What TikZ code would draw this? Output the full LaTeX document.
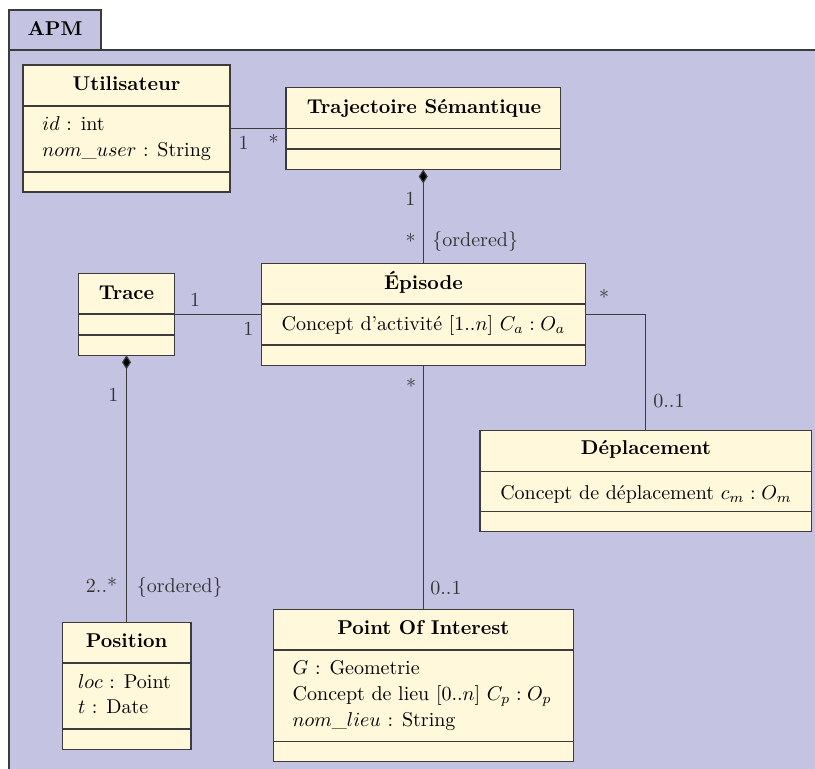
\documentclass[tikz,border=0pt]{standalone}
\usepackage{fontspec}
\usetikzlibrary{arrows.meta,fit}
\definecolor{pkgfill}{RGB}{197,195,226}
\definecolor{clsfill}{RGB}{255,248,218}
\definecolor{edge}{RGB}{60,60,60}
\begin{document}
\begin{tikzpicture}[x=0.5pt,y=-0.5pt,
  cls/.style={draw=edge, fill=clsfill, line width=0.6pt, inner sep=0pt, outer sep=0pt},
  sepline/.style={draw=edge, line width=0.6pt},
  ttl/.style={font=\bfseries, anchor=base, inner sep=0pt},
  attr/.style={anchor=base west, inner sep=0pt},
  attrc/.style={anchor=base, inner sep=0pt},
  lbl/.style={inner sep=0pt, text=black!80},
  assoc/.style={draw=edge, line width=0.6pt},
  comp/.style={assoc, {Diamond[length=7pt,width=4.5pt,fill=black]}-}
]
\useasboundingbox (0,0) rectangle (815,769);
\fill[white] (0,0) rectangle (815,769);
% package frame
\node[fill=pkgfill, inner sep=0pt, outer sep=0pt, fit={(9,50) (815,769)}] (pkg) {};
\draw[edge, line width=0.6pt] (815,50) -- (9,50) -- (9,769);
\node[draw=edge, fill=pkgfill, line width=0.6pt, inner sep=0pt, fit={(9,10) (101,50)}] (tab) {};
\node[ttl] (apm) at (55,36) {APM};

% Utilisateur
\node[cls, fit={(23,65) (230,192)}] (utl) {};
\draw[sepline] (23,106) -- (230,106);
\draw[sepline] (23,172) -- (230,172);
\node[ttl] (utlT) at (126.5,90.7) {Utilisateur};
\node[attr] (utlA1) at (42,131) {$id$ : int};
\node[attr] (utlA2) at (42,157) {$nom\_user$ : String};

% Trajectoire Semantique
\node[cls, fit={(286,87.5) (560.5,169.5)}] (traj) {};
\draw[sepline] (286,128.3) -- (560.5,128.3);
\draw[sepline] (286,149) -- (560.5,149);
\node[ttl] (trajT) at (424,113.3) {Trajectoire Sémantique};

% Episode
\node[cls, fit={(261.7,263.5) (585.3,365.3)}] (epi) {};
\draw[sepline] (261.7,304) -- (585.3,304);
\draw[sepline] (261.7,345) -- (585.3,345);
\node[ttl] (epiT) at (423.5,289.3) {Épisode};
\node[attrc] (epiA) at (423.5,331) {Concept d'activité [1..$n$] $C_a : O_a$};

% Trace
\node[cls, fit={(78.3,273.3) (174.7,355.3)}] (trace) {};
\draw[sepline] (78.3,314) -- (174.7,314);
\draw[sepline] (78.3,335) -- (174.7,335);
\node[ttl] (traceT) at (126.5,299.3) {Trace};

% Deplacement
\node[cls, fit={(480,430.7) (811.7,531.7)}] (depl) {};
\draw[sepline] (480,471.7) -- (811.7,471.7);
\draw[sepline] (480,511.7) -- (811.7,511.7);
\node[ttl] (deplT) at (646,455) {Déplacement};
\node[attrc] (deplA) at (646,500) {Concept de déplacement $c_m : O_m$};

% Position
\node[cls, fit={(62.3,622.3) (191,749.3)}] (pos) {};
\draw[sepline] (62.3,663) -- (191,663);
\draw[sepline] (62.3,729) -- (191,729);
\node[ttl] (posT) at (126.6,647.7) {Position};
\node[attr] (posA1) at (77.7,688.3) {$loc$ : Point};
\node[attr] (posA2) at (77.7,713.7) {$t$ : Date};

% Point Of Interest
\node[cls, fit={(273.3,609.7) (573.3,761.7)}] (poi) {};
\draw[sepline] (273.3,650) -- (573.3,650);
\draw[sepline] (273.3,741.7) -- (573.3,741.7);
\node[ttl] (poiT) at (423.3,635) {Point Of Interest};
\node[attr] (poiA1) at (292.3,675) {$G$ : Geometrie};
\node[attr] (poiA2) at (292.3,700.7) {Concept de lieu [0..$n$] $C_p : O_p$};
\node[attr] (poiA3) at (292.3,726.7) {$nom\_lieu$ : String};

% connectors
\draw[assoc] (utl.east) -- (utl.east -| traj.west);
\draw[comp] (traj.south) -- (traj.south |- epi.north);
\draw[assoc] (trace.east) -- (trace.east -| epi.west);
\draw[comp] (trace.south) -- (trace.south |- pos.north);
\draw[assoc] (epi.south) -- (epi.south |- poi.north);
\draw[assoc] (epi.east) -| (depl.north);

% labels
\node[lbl, anchor=base] (l1) at (243.5,150) {1};
\node[lbl] (l2) at (273.7,141.7) {*};
\node[lbl, anchor=base] (l3) at (410.3,206) {1};
\node[lbl] (l4) at (410.5,240.8) {*};
\node[lbl, anchor=base west] (l5) at (432,246.5) {\{ordered\}};
\node[lbl, anchor=base] (l6) at (195,306.7) {1};
\node[lbl, anchor=base] (l7) at (248.3,335.7) {1};
\node[lbl, anchor=base] (l8) at (113.3,401.7) {1};
\node[lbl] (l9) at (411,385.7) {*};
\node[lbl] (l10) at (604,296.7) {*};
\node[lbl, anchor=base west] (l11) at (653,408) {0..1};
\node[lbl, anchor=base east] (l12) at (117.5,592.3) {2..*};
\node[lbl, anchor=base west] (l13) at (136.5,592.3) {\{ordered\}};
\node[lbl, anchor=base west] (l14) at (430,595) {0..1};
\end{tikzpicture}
\end{document}
